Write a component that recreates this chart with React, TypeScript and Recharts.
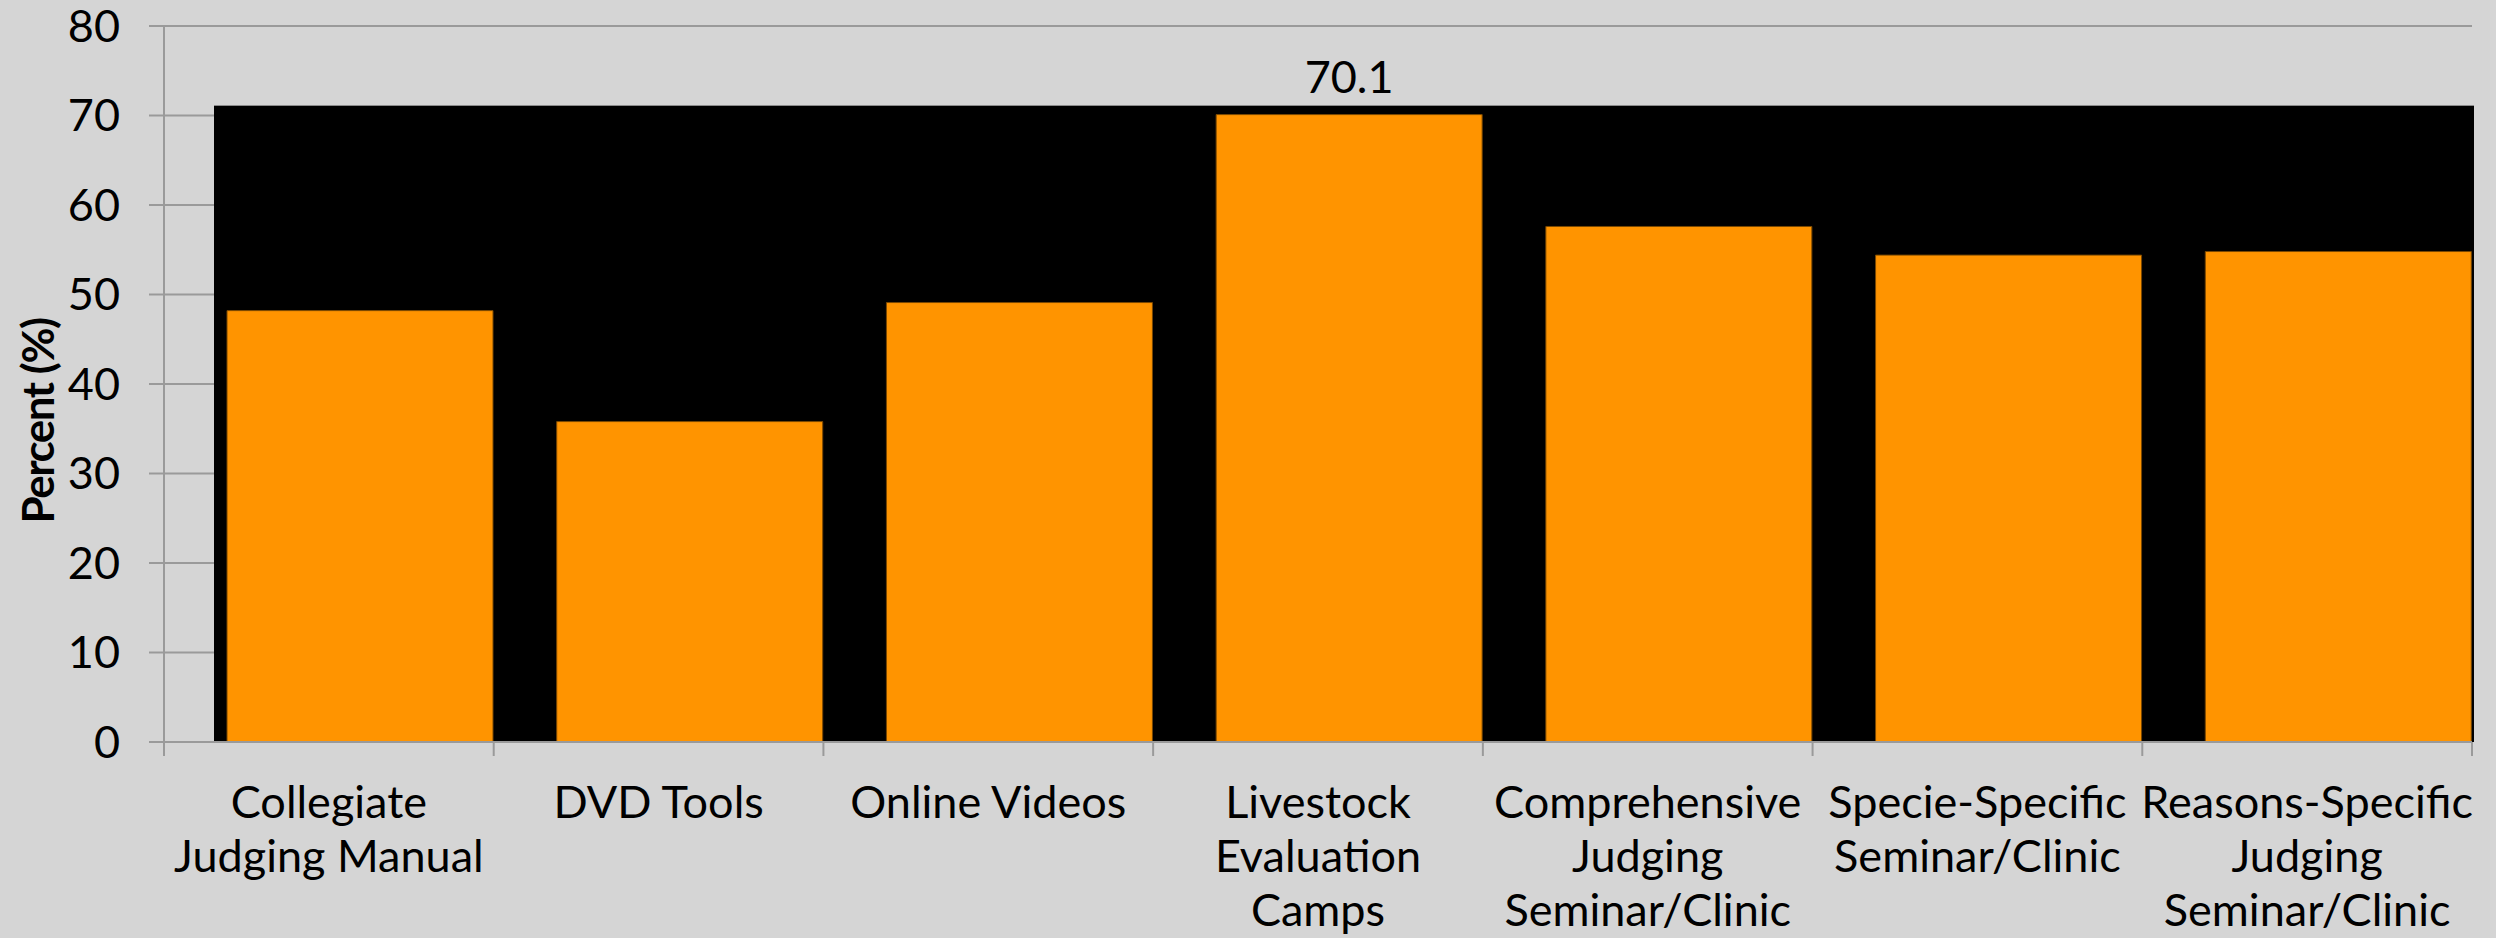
import React from 'react';
import {
  BarChart,
  Bar,
  XAxis,
  YAxis,
  CartesianGrid,
  ReferenceArea,
  LabelList,
} from 'recharts';

const categories = [
  'Collegiate\nJudging Manual',
  'DVD Tools',
  'Online Videos',
  'Livestock\nEvaluation\nCamps',
  'Comprehensive\nJudging\nSeminar/Clinic',
  'Specie-Specific\nSeminar/Clinic',
  'Reasons-Specific\nJudging\nSeminar/Clinic',
];
const percents = [48.2, 35.8, 49.1, 70.1, 57.6, 54.4, 54.8];
const valueLabels = ['', '', '', '70.1', '', '', ''];
const yTicks = [0, 10, 20, 30, 40, 50, 60, 70, 80];
// dark backdrop panel top, in percent
const panelTop = 71.1;

const data = categories.map((name, i) => ({
  name,
  value: percents[i],
  gap: percents[i],
  label: valueLabels[i],
}));

const FONT = 'Lato, "Open Sans", sans-serif';
const GRID = '#9a9a9a';
const PANEL_INSET = 50;

const CategoryTick = (props: any) => {
  const { x, y, payload, index } = props;
  const lines = String(payload.value).split('\n');
  const half = payload.offset || 0;
  const isLast = index === categories.length - 1;
  return (
    <g>
      <line x1={x - half} x2={x - half} y1={y} y2={y + 14} stroke={GRID} strokeWidth={2} />
      {isLast && (
        <line x1={x + half} x2={x + half} y1={y} y2={y + 14} stroke={GRID} strokeWidth={2} />
      )}
      <text
        x={x}
        y={y}
        textAnchor="middle"
        fill="#000"
        fontFamily={FONT}
        fontSize={45}
      >
        {lines.map((l, i) => (
          <tspan key={i} x={x} dy={i === 0 ? 76 : 54}>
            {l}
          </tspan>
        ))}
      </text>
    </g>
  );
};

const YLabel = (props: any) => {
  const vb = props.viewBox || { x: 0, y: 0, width: 0, height: 0 };
  const cx = vb.x + 54;
  const cy = vb.y + vb.height / 2 + 37;
  return (
    <text
      x={cx}
      y={cy}
      transform={`rotate(-90, ${cx}, ${cy})`}
      textAnchor="middle"
      fill="#000"
      fontFamily={FONT}
      fontWeight="bold"
      fontSize={44}
      letterSpacing={-1.5}
    >
      Percent (%)
    </text>
  );
};

const PanelShape = (p: any) => (
  <rect
    x={p.x + PANEL_INSET}
    y={p.y}
    width={p.width - PANEL_INSET + 2}
    height={p.height}
    fill="#000"
  />
);

export default function App() {
  return (
    <div
      style={{
        position: 'absolute',
        left: 0,
        top: 0,
        width: 2496,
        height: 938,
        background: '#d5d5d5',
        fontFamily: FONT,
      }}
    >
      <BarChart
        width={2496}
        height={938}
        data={data}
        margin={{ top: 26, right: 24, bottom: 0, left: 0 }}
        barGap={0}
        barCategoryGap={0}
      >
        <CartesianGrid vertical={false} stroke={GRID} strokeWidth={2} />
        <XAxis
          dataKey="name"
          type="category"
          height={196}
          interval={0}
          tickLine={false}
          axisLine={{ stroke: GRID, strokeWidth: 2 }}
          tickSize={0}
          tickMargin={0}
          tick={<CategoryTick />}
        />
        <YAxis
          width={164}
          domain={[0, 80]}
          ticks={yTicks}
          interval={0}
          tickSize={15}
          tickMargin={29}
          tick={{ fill: '#000', fontSize: 45, fontFamily: FONT }}
          tickLine={{ stroke: GRID, strokeWidth: 2 }}
          axisLine={{ stroke: GRID, strokeWidth: 2 }}
          label={<YLabel />}
        />
        <ReferenceArea
          x1={categories[0]}
          x2={categories[categories.length - 1]}
          y1={0}
          y2={panelTop}
          fill="#000"
          fillOpacity={1}
          stroke="none"
          ifOverflow="visible"
          shape={<PanelShape />}
        />
        <Bar
          dataKey="gap"
          barSize={63}
          fill="transparent"
          stroke="none"
          isAnimationActive={false}
          legendType="none"
        />
        <Bar
          dataKey="value"
          barSize={266}
          fill="#ff9400"
          stroke="#7a4800"
          strokeWidth={1}
          isAnimationActive={false}
        >
          <LabelList
            dataKey="label"
            position="top"
            offset={22}
            fill="#000"
            fontSize={45}
            fontFamily={FONT}
          />
        </Bar>
      </BarChart>
    </div>
  );
}
